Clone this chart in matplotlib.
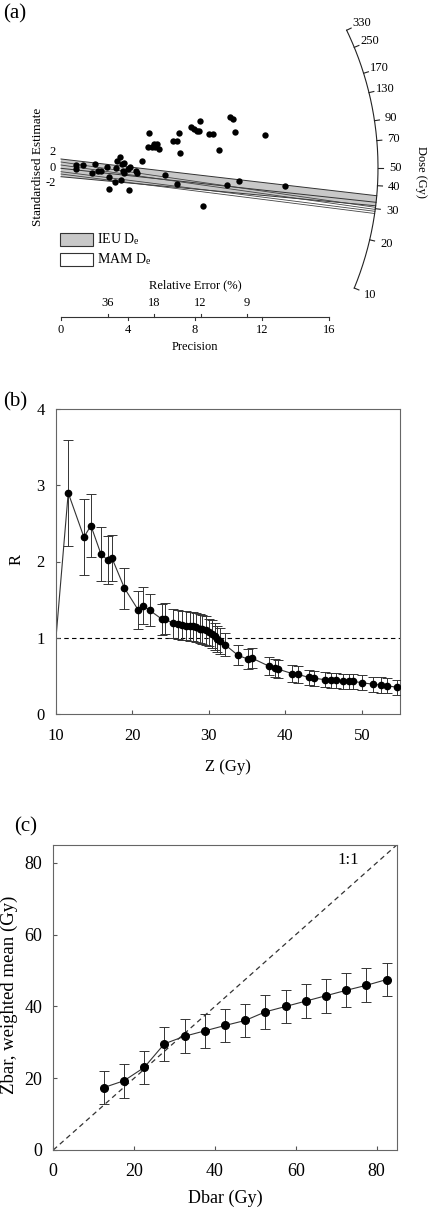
import numpy as np
import matplotlib.pyplot as plt
from matplotlib.patches import Rectangle, Polygon

plt.rcParams['font.family'] = ['Liberation Serif', 'DejaVu Serif']
plt.rcParams['mathtext.fontset'] = 'stix'

# ---- (a) radial plot data ----
precision = [0.90, 0.90, 1.30, 2.01, 1.85, 2.21, 2.41, 2.73, 2.88, 3.21, 2.88, 3.28,
             3.36, 3.52, 3.64, 3.76, 3.68, 3.56, 3.76, 4.00, 4.08, 4.12, 4.48, 4.52,
             4.84, 5.27, 5.19, 5.43, 5.55, 5.63, 5.75, 5.83, 6.19, 6.70, 6.91, 7.06,
             7.10, 6.91, 7.78, 7.94, 8.10, 8.30, 8.26, 8.46, 8.82, 9.06, 9.45, 9.89,
             10.09, 10.29, 10.37, 10.61, 12.16, 13.39]
std_est = [0.39, -0.13, 0.31, 0.48, -0.73, -0.47, -0.47, 0.05, -1.25, -1.82, -2.81, -0.04,
           0.91, 1.43, 0.48, 0.65, -0.39, -1.60, -0.73, -0.13, -2.90, 0.05, -0.47, -0.73,
           0.91, 4.47, 2.65, 2.65, 3.08, 2.73, 3.08, 2.47, -0.91, 3.43, 3.51, 4.55,
           1.87, -2.12, 5.32, 4.99, 4.81, 6.03, 4.81, -4.97, 4.38, 4.38, 2.30, -2.21,
           6.62, 6.29, 4.64, -1.77, 4.21, -2.38]
dose_ticks = [10, 20, 30, 40, 50, 70, 90, 130, 170, 250, 330]
re_ticks = [36, 18, 12, 9]
prec_ticks = [0, 4, 8, 12, 16]
ieu_start = [1.13, -0.08, -1.17]
ieu_end = [35.3, 32.5, 31.1]
mam_start = [0.74, 0.35, -0.52, -0.82]
mam_end = [30.5, 29.7, 29.0, 28.2]
central_dose = 50

# ---- (b) R vs Z ----
z_gy = [11.6, 13.65, 14.57, 15.87, 16.74, 17.3, 18.96, 20.78, 21.4, 22.26, 23.9, 24.2,
        25.3, 25.96, 26.52, 27.04, 27.48, 27.91, 28.35, 28.78, 29.13, 29.57, 30.0, 30.43,
        30.78, 31.09, 31.39, 32.1, 33.8, 35.1, 35.7, 37.8, 38.6, 39.0, 40.9, 41.6,
        43.1, 43.7, 45.2, 46.0, 46.6, 47.6, 48.3, 48.8, 50.0, 51.5, 52.5, 53.3, 54.65]
r_val = [2.90, 2.32, 2.47, 2.10, 2.02, 2.05, 1.65, 1.36, 1.42, 1.36, 1.24, 1.25,
         1.19, 1.18, 1.166, 1.157, 1.148, 1.148, 1.135, 1.12, 1.11, 1.10, 1.07, 1.05,
         1.02, 0.98, 0.96, 0.91, 0.77, 0.72, 0.73, 0.63, 0.60, 0.59, 0.53, 0.52,
         0.48, 0.47, 0.45, 0.44, 0.44, 0.43, 0.43, 0.43, 0.41, 0.39, 0.38, 0.37, 0.35]
r_err = [0.70, 0.50, 0.41, 0.35, 0.31, 0.30, 0.27, 0.25, 0.24, 0.21, 0.20, 0.20,
         0.19, 0.19, 0.19, 0.19, 0.19, 0.19, 0.19, 0.19, 0.19, 0.19, 0.18, 0.18,
         0.18, 0.17, 0.17, 0.15, 0.13, 0.13, 0.13, 0.12, 0.12, 0.12, 0.11, 0.11,
         0.10, 0.10, 0.10, 0.10, 0.10, 0.10, 0.10, 0.10, 0.10, 0.10, 0.10, 0.10, 0.10]
z_start, r_start = 10, 1

# ---- (c) Zbar vs Dbar ----
dbar = [12.5, 17.5, 22.5, 27.5, 32.5, 37.5, 42.5, 47.5, 52.5, 57.5, 62.5, 67.5, 72.5, 77.5, 82.5]
zbar = [17.4, 19.3, 23.0, 29.6, 31.7, 33.2, 34.7, 36.1, 38.5, 40.0, 41.5, 43.0, 44.5, 45.9, 47.5]
zbar_err = [4.7, 4.75, 4.7, 4.7, 4.7, 4.7, 4.7, 4.7, 4.7, 4.7, 4.7, 4.7, 4.7, 4.7, 4.7]

W, H = 429, 1208
fig = plt.figure(figsize=(W / 100, H / 100), dpi=100)

# ======================= panel (a) =======================
ox, oy = 61, 167.7      # origin of the radial plot (px)
sx, sy = 16.75, 7.7     # px per unit
r_arc = 317             # arc radius (px)
k_ang = 0.255
top_h = 345

ax = fig.add_axes([0, 1 - top_h / H, 1, top_h / H])
ax.set_xlim(-ox / sx, (W - ox) / sx)
ax.set_ylim(-(top_h - oy) / sy, oy / sy)
ax.axis('off')


def arc_pt(d, r=r_arc):
    t = np.arctan(k_ang * np.log(np.asarray(d, float) / central_dose))
    return r * np.cos(t) / sx, r * np.sin(t) / sy


def px(x, y):
    return (x - ox) / sx, (oy - y) / sy


# IEU band (grey) and MAM band (open)
ex, ey = arc_pt([ieu_end[0], ieu_end[-1]])
ax.add_patch(Polygon([(0, ieu_start[0]), (ex[0], ey[0]), (ex[1], ey[1]), (0, ieu_start[-1])],
                     closed=True, facecolor='#c8c8c8', edgecolor='none', zorder=1))
for b, d in zip(ieu_start, ieu_end):
    x1, y1 = arc_pt(d)
    ax.plot([0, x1], [b, y1], color='#333333', lw=0.7, zorder=2)
for b, d in zip(mam_start, mam_end):
    x1, y1 = arc_pt(d)
    ax.plot([0, x1], [b, y1], color='#444444', lw=0.6, zorder=2)

ax.scatter(precision, std_est, s=21, color='black', zorder=3, linewidths=0)

# arc axis
dd = np.geomspace(min(dose_ticks), max(dose_ticks), 300)
axx, ayy = arc_pt(dd)
ax.plot(axx, ayy, color='#222222', lw=0.8)
for d in dose_ticks:
    x0, y0 = arc_pt(d)
    x1, y1 = arc_pt(d, r_arc + 5)
    ax.plot([x0, x1], [y0, y1], color='#222222', lw=0.8)
    xl, yl = arc_pt(d, r_arc + 17)
    ax.text(xl, yl, str(d), ha='center', va='center', fontsize=9)

# y labels
for v in [2, 0, -2]:
    ax.text(-5 / sx, v, str(v), ha='right', va='center', fontsize=9)
ax.text(*px(38, 167), 'Standardised Estimate', rotation=90, ha='center', va='center', fontsize=9.5)

# precision / relative error axis
y_ax = (oy - 317.3) / sy
ax.plot([0, 16], [y_ax, y_ax], color='#333333', lw=0.8)
for p in prec_ticks:
    ax.plot([p, p], [y_ax, y_ax - 3 / sy], color='#333333', lw=0.8)
    ax.text(p, y_ax - 13 / sy, str(p), ha='center', va='center', fontsize=9)
for rel in re_ticks:
    p = 100 / rel
    ax.plot([p, p], [y_ax, y_ax + 3 / sy], color='#333333', lw=0.8)
    ax.text(p, y_ax + 14 / sy, str(rel), ha='center', va='center', fontsize=9)
ax.text(8, y_ax + 32 / sy, 'Relative Error (%)', ha='center', va='center', fontsize=9)
ax.text(8, y_ax - 30 / sy, 'Precision', ha='center', va='center', fontsize=9)

# legend
for (y0, fc, lab) in [(233, '#c8c8c8', r'IEU D$_\mathregular{e}$'), (253, 'white', r'MAM D$_\mathregular{e}$')]:
    x0, yb = px(60, y0 + 12.5)
    ax.add_patch(Rectangle((x0, yb), 33 / sx, 12.5 / sy, facecolor=fc, edgecolor='#333333', lw=0.8))
    ax.text(*px(97, y0 + 6), lab, ha='left', va='center', fontsize=10)

ax.text(*px(421, 172), 'Dose (Gy)', rotation=-90, ha='center', va='center', fontsize=9)
fig.text(3 / W, 1 - 14 / H, '(a)', ha='left', va='center', fontsize=15)

# ======================= panel (b) =======================
axb = fig.add_axes([56 / W, 1 - 714 / H, 344 / W, 305 / H])
axb.plot([z_start] + z_gy, [r_start] + r_val, color='#333333', lw=0.8, zorder=2)
axb.errorbar(z_gy, r_val, yerr=r_err, fmt='o', color='black', ms=4.5, ecolor='#333333',
             elinewidth=0.7, capsize=3.5, capthick=0.7, zorder=3)
axb.axhline(1, color='black', lw=0.8, ls=(0, (4, 3)), zorder=1)
axb.set_xlim(10, 55)
axb.set_ylim(0, 4)
axb.set_xticks([10, 20, 30, 40, 50])
axb.set_yticks([0, 1, 2, 3, 4])
axb.tick_params(direction='in', length=3, labelsize=12, color='#555555')
axb.tick_params(axis='x', pad=10)
axb.tick_params(axis='y', pad=8)
for s in axb.spines.values():
    s.set_color('#666666')
    s.set_linewidth(0.8)
fig.text(17 / W, 1 - 560 / H, 'R', rotation=90, ha='center', va='center', fontsize=12)
fig.text(228 / W, 1 - 767 / H, 'Z (Gy)', ha='center', va='center', fontsize=12)
fig.text(3 / W, 1 - 402 / H, '(b)', ha='left', va='center', fontsize=15)

# ======================= panel (c) =======================
axc = fig.add_axes([53.3 / W, 1 - 1150 / H, 343.4 / W, 305 / H])
axc.plot([0, 85], [0, 85], color='#333333', lw=0.9, ls=(0, (4, 3)), zorder=1)
axc.plot(dbar, zbar, color='#333333', lw=0.8, zorder=2)
axc.errorbar(dbar, zbar, yerr=zbar_err, fmt='o', color='black', ms=5.5, ecolor='#333333',
             elinewidth=0.7, capsize=3.5, capthick=0.7, zorder=3)
axc.text(73, 80.8, '1:1', ha='center', va='center', fontsize=12)
axc.set_xlim(0, 85)
axc.set_ylim(0, 85)
axc.set_xticks([0, 20, 40, 60, 80])
axc.set_yticks([0, 20, 40, 60, 80])
axc.tick_params(direction='in', length=3, labelsize=13, color='#555555')
axc.tick_params(axis='x', pad=9)
axc.tick_params(axis='y', pad=8)
for s in axc.spines.values():
    s.set_color('#666666')
    s.set_linewidth(0.8)
fig.text(9 / W, 1 - 995 / H, 'Zbar, weighted mean (Gy)', rotation=90, ha='center', va='center', fontsize=13.5)
fig.text(225 / W, 1 - 1198 / H, 'Dbar (Gy)', ha='center', va='center', fontsize=13)
fig.text(14 / W, 1 - 827 / H, '(c)', ha='left', va='center', fontsize=15)

fig.savefig('out.png', dpi=100)
